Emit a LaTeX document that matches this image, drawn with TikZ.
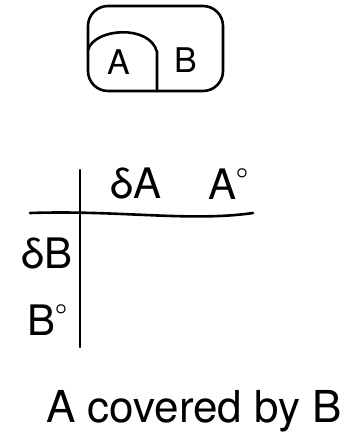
\documentclass[tikz,border=0pt]{standalone}
\usepackage{fontspec}
\setmainfont{TeX Gyre Heros}
\usetikzlibrary{positioning}
\tikzset{
  pen/.style={line width=2.6pt, line cap=round, line join=round},
  hand/.style={inner sep=0pt, font=\fontsize{42}{42}\selectfont}
}
\newcommand{\intr}{\raisebox{0.5em}{\fontsize{22}{22}\selectfont$\boldsymbol{\circ}$}}
\usepackage{amsmath}
\begin{document}
\begin{tikzpicture}[x=1pt,y=-1pt]
\useasboundingbox (0,0) rectangle (351,437);

% the two regions
\draw[pen, rounded corners=20] (88,6) rectangle (223,91);
\draw[pen] (88,50) .. controls (94,28) and (150,24) .. (157,52) -- (157,91);
\node[hand, font=\fontsize{34}{34}\selectfont] (a) at (119,62) {A};
\node[hand, font=\fontsize{34}{34}\selectfont] (b) at (186,60) {B};

% the table
\coordinate (vtop) at (80,170);
\coordinate (vbot) at (80,347);
\coordinate (hleft) at (30,213);
\coordinate (hright) at (253,213);
\draw[pen] (vtop) -- (vbot);
\draw[pen] (hleft) .. controls (120,210) and (190,222) .. (hright);

\node[hand] (da) at (136,184) {δA};
\node[hand] (ai) at (228,184) {A\intr};
\node[hand] (db) at (47,254) {δB};
\node[hand] (bi) at (47,320) {B\intr};

\node[font=\fontsize{44}{44}\selectfont, inner sep=0pt] (caption) at (194,411) {A covered by B};
\end{tikzpicture}
\end{document}
